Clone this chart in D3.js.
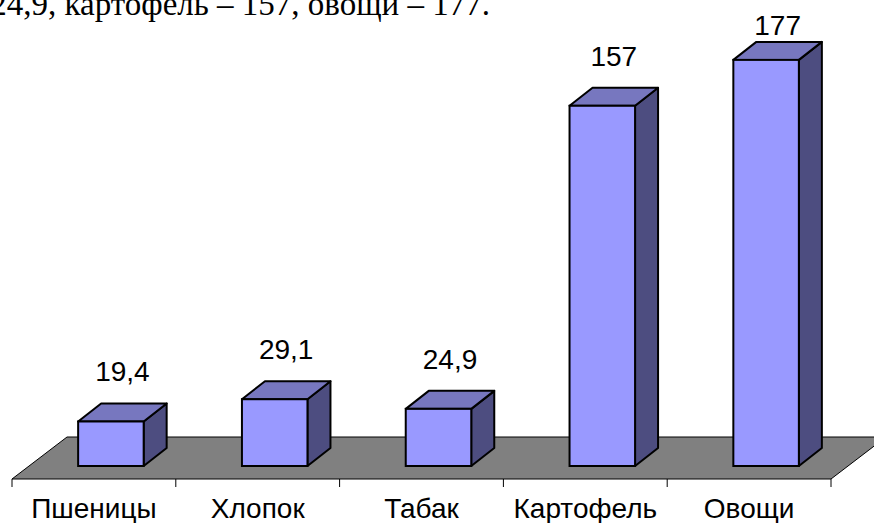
<!DOCTYPE html>
<html>
<head>
<meta charset="utf-8">
<script src="https://cdn.jsdelivr.net/npm/d3@7"></script>
<style>
  body { margin: 0; background: #fff; }
  svg { display: block; }
</style>
</head>
<body>
<div id="chart"></div>
<script>
// Chart data
const categories = ['Пшеницы', 'Хлопок', 'Табак', 'Картофель', 'Овощи'];
const values = [19.4, 29.1, 24.9, 157, 177];
const valueLabels = ['19,4', '29,1', '24,9', '157', '177'];
const captionText = '24,9, картофель – 157, овощи – 177.';

const W = 874;
const H = 523;

const svg = d3.select('#chart')
  .append('svg')
  .attr('width', W)
  .attr('height', H);

// Floor geometry (front edge and depth offset of the 3D floor)
const floorFront = 479;
const depthX = 55;
const depthY = -42;

const x = d3.scaleBand().domain(categories).range([12, 831]).paddingInner(0).paddingOuter(0);
const y = d3.scaleLinear().domain([0, 180]).range([466, 53]);

// Bars sit a bit back on the floor
const barShiftX = 17;
const barDX = 23;
const barDY = -18;
const barW = x.bandwidth() * 0.4;

// Caption line cut off at the top
svg.append('text')
  .attr('x', 490)
  .attr('y', 15)
  .attr('text-anchor', 'end')
  .attr('font-family', '"Liberation Serif", "Times New Roman", serif')
  .attr('font-size', 33)
  .attr('fill', '#000')
  .text(captionText);

// Floor
const x0 = x.range()[0];
const x1 = x.range()[1];
svg.append('path')
  .attr('d', `M${x0},${floorFront} L${x0 + depthX},${floorFront + depthY} L${x1 + depthX},${floorFront + depthY} L${x1},${floorFront} Z`)
  .attr('fill', '#808080')
  .attr('stroke', '#000')
  .attr('stroke-width', 1);

// Axis ticks and category labels
const axis = d3.axisBottom(x).tickSize(0).tickPadding(0);
const ag = svg.append('g').attr('transform', `translate(0, ${floorFront})`).call(axis);
ag.select('.domain').remove();
ag.selectAll('text')
  .attr('y', 39)
  .attr('dy', 0)
  .attr('font-family', '"Liberation Sans", Arial, sans-serif')
  .attr('font-size', 28)
  .attr('fill', '#000');

const bounds = categories.map((c) => x(c)).concat([x1]);
svg.append('g').selectAll('line')
  .data(bounds).enter()
  .append('line')
  .attr('x1', (d) => d)
  .attr('x2', (d) => d)
  .attr('y1', floorFront)
  .attr('y2', floorFront + 8)
  .attr('stroke', '#000')
  .attr('stroke-width', 1);

// 3D bars
const data = categories.map((c, i) => ({ cat: c, v: values[i], label: valueLabels[i] }));
const bars = svg.append('g').selectAll('g')
  .data(data).enter()
  .append('g');

const fx = (d) => x(d.cat) + x.bandwidth() / 2 + barShiftX - barW / 2;

// side face
bars.append('path')
  .attr('d', (d) => {
    const r = fx(d) + barW;
    const t = y(d.v);
    const b = y(0);
    return `M${r},${b} L${r},${t} L${r + barDX},${t + barDY} L${r + barDX},${b + barDY} Z`;
  })
  .attr('fill', '#4d4d80')
  .attr('stroke', '#000')
  .attr('stroke-width', 2)
  .attr('stroke-linejoin', 'round');

// top face
bars.append('path')
  .attr('d', (d) => {
    const l = fx(d);
    const r = l + barW;
    const t = y(d.v);
    return `M${l},${t} L${l + barDX},${t + barDY} L${r + barDX},${t + barDY} L${r},${t} Z`;
  })
  .attr('fill', '#7777bf')
  .attr('stroke', '#000')
  .attr('stroke-width', 2)
  .attr('stroke-linejoin', 'round');

// front face
bars.append('rect')
  .attr('x', (d) => fx(d))
  .attr('y', (d) => y(d.v))
  .attr('width', barW)
  .attr('height', (d) => y(0) - y(d.v))
  .attr('fill', '#9999ff')
  .attr('stroke', '#000')
  .attr('stroke-width', 2);

// value labels
bars.append('text')
  .attr('x', (d) => fx(d) + barW / 2 + barDX / 2)
  .attr('y', (d) => Math.max(y(d.v) + barDY - 22, 35))
  .attr('text-anchor', 'middle')
  .attr('font-family', '"Liberation Sans", Arial, sans-serif')
  .attr('font-size', 28)
  .attr('fill', '#000')
  .text((d) => d.label);
</script>
</body>
</html>
